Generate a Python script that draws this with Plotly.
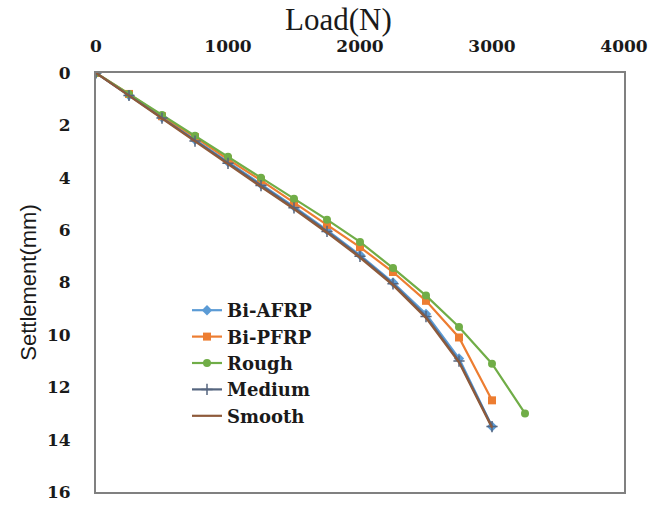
import plotly.graph_objects as go

# Load steps (N) and settlement (mm) for each pile surface type
load_a = [0, 250, 500, 750, 1000, 1250, 1500, 1750, 2000, 2250, 2500, 2750, 3000]
load_rough = [0, 250, 500, 750, 1000, 1250, 1500, 1750, 2000, 2250, 2500, 2750, 3000, 3250]

settle_bi_afrp = [0, 0.85, 1.7, 2.55, 3.4, 4.25, 5.1, 6.0, 6.95, 8.0, 9.2, 10.9, 13.5]
settle_bi_pfrp = [0, 0.8, 1.65, 2.45, 3.3, 4.1, 4.95, 5.8, 6.65, 7.6, 8.7, 10.1, 12.5]
settle_rough = [0, 0.8, 1.6, 2.4, 3.2, 4.0, 4.8, 5.6, 6.45, 7.45, 8.5, 9.7, 11.1, 13.0]
settle_medium = [0, 0.86, 1.72, 2.6, 3.45, 4.3, 5.15, 6.05, 7.0, 8.05, 9.3, 11.0, 13.5]
settle_smooth = [0, 0.87, 1.75, 2.62, 3.5, 4.35, 5.2, 6.1, 7.05, 8.1, 9.35, 11.05, 13.55]

x_ticks = [0, 1000, 2000, 3000, 4000]
y_ticks = [0, 2, 4, 6, 8, 10, 12, 14, 16]

W, H = 655, 508
L, R, T, B = 96, 31, 73, 16
tick_font = dict(family="DejaVu Serif", size=17, color="#1a1a1a", weight="bold")

fig = go.Figure()
fig.add_trace(go.Scatter(
    x=load_a, y=settle_bi_afrp, name="Bi-AFRP", mode="lines+markers",
    line=dict(color="#5B9BD5", width=2.2),
    marker=dict(symbol="diamond", size=8, color="#5B9BD5")))
fig.add_trace(go.Scatter(
    x=load_a, y=settle_bi_pfrp, name="Bi-PFRP", mode="lines+markers",
    line=dict(color="#ED7D31", width=2.2),
    marker=dict(symbol="square", size=8, color="#ED7D31")))
fig.add_trace(go.Scatter(
    x=load_rough, y=settle_rough, name="Rough", mode="lines+markers",
    line=dict(color="#70AD47", width=2.2),
    marker=dict(symbol="circle", size=8, color="#70AD47")))
fig.add_trace(go.Scatter(
    x=load_a, y=settle_medium, name="Medium", mode="lines+markers",
    line=dict(color="#55657F", width=2.2),
    marker=dict(symbol="cross-thin", size=8, line=dict(color="#55657F", width=1.5))))
fig.add_trace(go.Scatter(
    x=load_a, y=settle_smooth, name="Smooth", mode="lines",
    line=dict(color="#8E5A3A", width=2.2)))

pw, ph = W - L - R, H - T - B
fig.update_layout(
    width=W, height=H,
    margin=dict(l=L, r=R, t=T, b=B, autoexpand=False),
    paper_bgcolor="white", plot_bgcolor="white",
    showlegend=True,
    legend=dict(
        x=(187 - L) / pw, y=1 - (292 - T) / ph, xanchor="left", yanchor="top",
        bgcolor="rgba(0,0,0,0)",
        font=dict(family="DejaVu Serif", size=18, color="#1a1a1a", weight="bold"),
        itemwidth=30, tracegroupgap=0),
    annotations=[dict(
        text="Load(N)", xref="paper", yref="paper",
        x=(338 - L) / pw, y=1 + (T - 20) / ph, xanchor="center", yanchor="middle",
        showarrow=False,
        font=dict(family="Liberation Serif", size=31, color="#1a1a1a"))],
)

fig.update_xaxes(
    side="top", range=[0, 4000], tickvals=x_ticks, automargin=False,
    showgrid=False, zeroline=False, showline=True, mirror=True,
    linecolor="#808080", linewidth=2, ticks="", ticklabelstandoff=12,
    tickfont=tick_font)
fig.update_yaxes(
    range=[16, 0], tickvals=y_ticks, automargin=False,
    showgrid=False, zeroline=False, showline=True, mirror=True,
    linecolor="#808080", linewidth=2, ticks="", ticklabelstandoff=20,
    title=dict(text="Settlement(mm)", standoff=4,
               font=dict(family="Liberation Sans", size=22, color="#1a1a1a")),
    tickfont=tick_font)

fig.write_html("out.html")
